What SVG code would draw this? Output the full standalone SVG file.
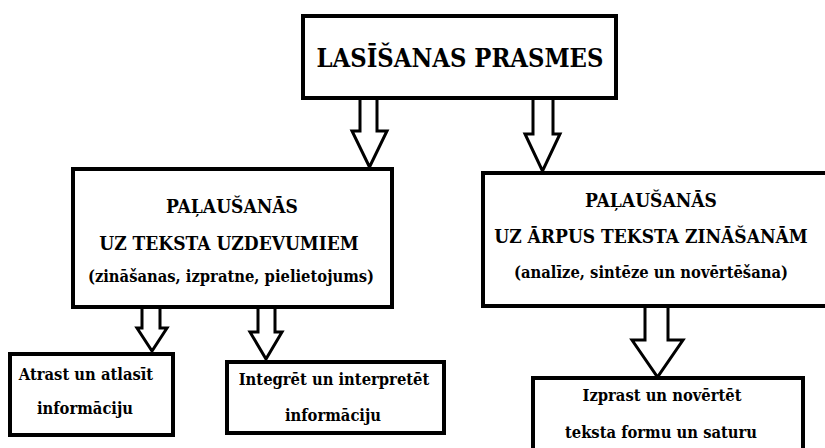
<svg xmlns="http://www.w3.org/2000/svg" width="825" height="448" viewBox="0 0 825 448">
<style>
.box{fill:#fff;stroke:#000;stroke-width:4}
.arr{fill:#fff;stroke:#000;stroke-width:3;stroke-linejoin:miter}
.tx{font-family:'DejaVu Serif',serif;font-stretch:condensed;font-weight:700;fill:#000;text-anchor:middle}
.t{font-size:25.3px}
.m{font-size:19px}
.s{font-size:16.4px}
</style>
<rect width="825" height="448" fill="#fff"/>
<g id="connectors">
<polygon class="arr" points="360,97 360,131 352,131 369.5,167 387,131 377,131 377,97"/>
<polygon class="arr" points="533,97 533,134 525,134 542.5,171 560,134 553,134 553,97"/>
<polygon class="arr" points="142,307 142,328 137,328 152,351 167,328 160,328 160,307"/>
<polygon class="arr" points="258,307 258,332 250,332 266,359 282,332 275,332 275,307"/>
<polygon class="arr" points="645,305 645,340 632,340 657.5,377 683,340 668,340 668,305"/>
</g>
<g id="n-title">
<rect class="box" x="303" y="16" width="313" height="82"/>
<text class="tx t" x="460" y="67">LASĪŠANAS PRASMES</text>
</g>
<g id="n-left">
<rect class="box" x="73" y="169" width="319" height="138"/>
<text class="tx m" x="232" y="213">PAĻAUŠANĀS</text>
<text class="tx m" x="229" y="250">UZ TEKSTA UZDEVUMIEM</text>
<text class="tx s" x="231" y="282">(zināšanas, izpratne, pielietojums)</text>
</g>
<g id="n-right">
<rect class="box" x="483" y="173" width="350" height="133"/>
<text class="tx m" x="651" y="207">PAĻAUŠANĀS</text>
<text class="tx m" x="651" y="243">UZ ĀRPUS TEKSTA ZINĀŠANĀM</text>
<text class="tx s" x="651" y="278">(analīze, sintēze un novērtēšana)</text>
</g>
<g id="n-a">
<rect class="box" x="10" y="354" width="163" height="81"/>
<text class="tx s" x="86" y="380">Atrast un atlasīt</text>
<text class="tx s" x="85" y="414">informāciju</text>
</g>
<g id="n-b">
<rect class="box" x="227" y="362" width="217" height="71"/>
<text class="tx s" x="334" y="385">Integrēt un interpretēt</text>
<text class="tx s" x="333" y="421">informāciju</text>
</g>
<g id="n-c">
<rect class="box" x="533" y="378" width="270" height="80"/>
<text class="tx s" x="662" y="401">Izprast un novērtēt</text>
<text class="tx s" x="661" y="438">teksta formu un saturu</text>
</g>
</svg>
